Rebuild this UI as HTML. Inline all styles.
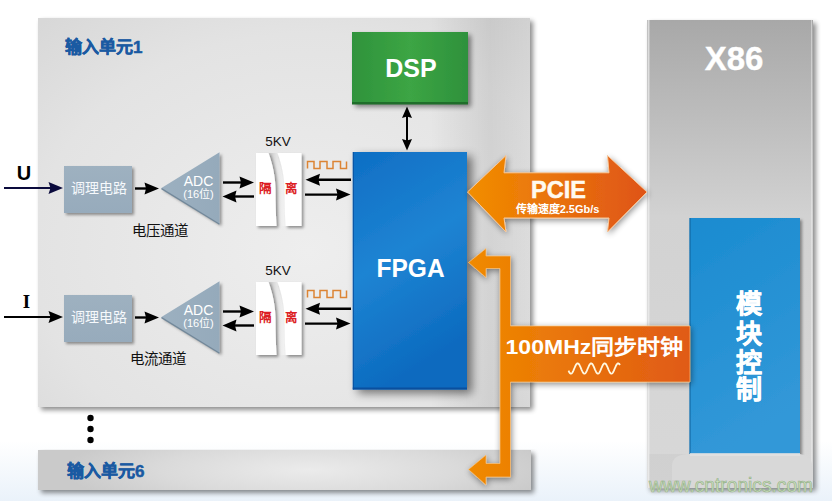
<!DOCTYPE html>
<html lang="zh-CN">
<head>
<meta charset="utf-8">
<style>
html,body{margin:0;padding:0;width:832px;height:501px;overflow:hidden;background:#fff;}
body{font-family:"Liberation Sans",sans-serif;}
svg{position:absolute;left:0;top:0;}
text{font-family:"Liberation Sans",sans-serif;}
</style>
</head>
<body>
<svg width="832" height="501" viewBox="0 0 832 501">
<defs>
  <linearGradient id="bg" x1="0" y1="0" x2="0" y2="1">
    <stop offset="0" stop-color="#ffffff"/>
    <stop offset="0.88" stop-color="#ffffff"/>
    <stop offset="1" stop-color="#eaf2fa"/>
  </linearGradient>
  <radialGradient id="p1" cx="0.55" cy="0.6" r="0.8" gradientUnits="objectBoundingBox">
    <stop offset="0" stop-color="#eeeeee"/>
    <stop offset="0.7" stop-color="#e3e3e3"/>
    <stop offset="1" stop-color="#d8d8d8"/>
  </radialGradient>
  <radialGradient id="p6" cx="0.55" cy="0.5" r="0.5" gradientUnits="objectBoundingBox" gradientTransform="translate(0.55,0.5) scale(1,2.2) translate(-0.55,-0.5)">
    <stop offset="0" stop-color="#ebebeb"/>
    <stop offset="0.6" stop-color="#dadada"/>
    <stop offset="1" stop-color="#cacaca"/>
  </radialGradient>
  <linearGradient id="x86" x1="0" y1="0" x2="0" y2="1">
    <stop offset="0" stop-color="#a8a8a8"/>
    <stop offset="0.42" stop-color="#d2d2d2"/>
    <stop offset="1" stop-color="#d8d8d8"/>
  </linearGradient>
  <linearGradient id="dsp" x1="0" y1="0" x2="1" y2="0">
    <stop offset="0" stop-color="#2f933c"/>
    <stop offset="0.5" stop-color="#3ca544"/>
    <stop offset="1" stop-color="#2e913c"/>
  </linearGradient>
  <linearGradient id="fpga" x1="0" y1="0" x2="0.3" y2="1">
    <stop offset="0" stop-color="#0e6ec4"/>
    <stop offset="0.5" stop-color="#1e84d3"/>
    <stop offset="1" stop-color="#0c6abf"/>
  </linearGradient>
  <linearGradient id="mk" x1="0" y1="0" x2="0.3" y2="1">
    <stop offset="0" stop-color="#1a8bd0"/>
    <stop offset="1" stop-color="#3298d8"/>
  </linearGradient>
  <linearGradient id="org" x1="0" y1="0" x2="1" y2="0">
    <stop offset="0" stop-color="#f28e00"/>
    <stop offset="1" stop-color="#df5418"/>
  </linearGradient>
  <linearGradient id="org2" x1="0" y1="0" x2="1" y2="0">
    <stop offset="0" stop-color="#f08a00"/>
    <stop offset="1" stop-color="#e05a16"/>
  </linearGradient>
  <linearGradient id="box" x1="0" y1="0" x2="0" y2="1">
    <stop offset="0" stop-color="#9eb1c0"/>
    <stop offset="1" stop-color="#97abbc"/>
  </linearGradient>
  <linearGradient id="tri" x1="0" y1="0" x2="1" y2="0">
    <stop offset="0" stop-color="#9cb0c0"/>
    <stop offset="1" stop-color="#95aabb"/>
  </linearGradient>
  <linearGradient id="band" x1="0" y1="0" x2="1" y2="0">
    <stop offset="0" stop-color="#c4c4c4"/>
    <stop offset="0.5" stop-color="#e6e6e6"/>
    <stop offset="1" stop-color="#f4f4f4"/>
  </linearGradient>
  <filter id="sh" x="-10%" y="-10%" width="130%" height="130%">
    <feGaussianBlur in="SourceAlpha" stdDeviation="2.5"/>
    <feOffset dx="3" dy="3" result="b"/>
    <feComponentTransfer><feFuncA type="linear" slope="0.45"/></feComponentTransfer>
    <feMerge><feMergeNode/><feMergeNode in="SourceGraphic"/></feMerge>
  </filter>
  <linearGradient id="p1r" x1="0" y1="0" x2="1" y2="0">
    <stop offset="0" stop-color="#000" stop-opacity="0"/>
    <stop offset="0.6" stop-color="#000" stop-opacity="0.085"/>
    <stop offset="1" stop-color="#000" stop-opacity="0.04"/>
  </linearGradient>
  <filter id="shF" x="-30%" y="-10%" width="160%" height="130%">
    <feGaussianBlur in="SourceAlpha" stdDeviation="5"/>
    <feOffset dx="5" dy="4" result="b"/>
    <feComponentTransfer><feFuncA type="linear" slope="0.5"/></feComponentTransfer>
    <feMerge><feMergeNode/><feMergeNode in="SourceGraphic"/></feMerge>
  </filter>
  <filter id="shO" x="-20%" y="-20%" width="150%" height="150%">
    <feGaussianBlur in="SourceAlpha" stdDeviation="3"/>
    <feOffset dx="1" dy="2" result="b"/>
    <feComponentTransfer><feFuncA type="linear" slope="0.45"/></feComponentTransfer>
    <feMerge><feMergeNode/><feMergeNode in="SourceGraphic"/></feMerge>
  </filter>
  <filter id="sh2" x="-20%" y="-20%" width="150%" height="150%">
    <feGaussianBlur in="SourceAlpha" stdDeviation="1.5"/>
    <feOffset dx="2" dy="2" result="b"/>
    <feComponentTransfer><feFuncA type="linear" slope="0.4"/></feComponentTransfer>
    <feMerge><feMergeNode/><feMergeNode in="SourceGraphic"/></feMerge>
  </filter>
</defs>

<rect x="0" y="0" width="832" height="501" fill="url(#bg)"/>

<!-- panels -->
<rect x="38" y="18" width="492" height="389" fill="url(#p1)" filter="url(#sh)"/>
<rect x="38" y="450" width="493" height="40" fill="url(#p6)" filter="url(#sh)"/>
<rect x="647" y="20" width="166" height="468" fill="url(#x86)" filter="url(#sh)"/>
<rect x="647.5" y="20" width="2" height="468" fill="#f0f0f0" opacity="0.7"/>
<rect x="811" y="20" width="1" height="468" fill="#eeeeee" opacity="0.5"/>

<rect x="430" y="18" width="100" height="389" fill="url(#p1r)"/>
<text x="65" y="53" font-size="17" font-weight="bold" fill="#1a5aa2" stroke="#1a5aa2" stroke-width="0.5">输入单元1</text>
<text x="67" y="477" font-size="17" font-weight="bold" fill="#1a5aa2" stroke="#1a5aa2" stroke-width="0.5">输入单元6</text>

<circle cx="90.5" cy="418" r="3.2" fill="#000"/>
<circle cx="90.5" cy="429" r="3.2" fill="#000"/>
<circle cx="90.5" cy="440" r="3.2" fill="#000"/>

<!-- DSP -->
<rect x="352" y="32" width="116" height="72" fill="url(#dsp)" filter="url(#sh)"/>
<rect x="352" y="102" width="116" height="2.5" fill="#1f6e2a"/>
<text x="411" y="77" font-size="25" font-weight="bold" fill="#fff" text-anchor="middle">DSP</text>

<!-- FPGA -->
<rect x="352.8" y="152" width="114.2" height="237.5" fill="url(#fpga)" filter="url(#shF)"/>
<rect x="352.8" y="387.5" width="114.2" height="2" fill="#0a4f9e"/>
<rect x="352.8" y="152" width="1.2" height="237.5" fill="#0a4f9e" opacity="0.8"/>
<text x="376.6" y="277" font-size="25" font-weight="bold" fill="#fff" textLength="68" lengthAdjust="spacingAndGlyphs">FPGA</text>

<!-- DSP-FPGA -->
<line x1="407" y1="114" x2="407" y2="143" stroke="#000" stroke-width="2"/>
<path d="M407.0,106.5 L412.0,118.0 L407.0,116.5 L402.0,118.0 z" fill="#000"/>
<path d="M407.0,150.5 L402.0,139.0 L407.0,140.5 L412.0,139.0 z" fill="#000"/>

<g transform="translate(0,0)">
<line x1="4.0" y1="188.0" x2="51.0" y2="188.0" stroke="#0a0a3c" stroke-width="2.2"/><path d="M63.0,188.0 L48.5,194.0 L50.5,188.0 L48.5,182.0 z" fill="#0a0a3c"/>
<rect x="64" y="166" width="68" height="47" fill="url(#box)" filter="url(#sh2)"/>
<text x="98.5" y="193.3" font-size="14" fill="#f6f9fc" text-anchor="middle">调理电路</text>
<line x1="135.0" y1="188.5" x2="146.5" y2="188.5" stroke="#000" stroke-width="2.4"/><path d="M159.0,188.5 L144.5,194.5 L146.0,188.5 L144.5,182.5 z" fill="#000"/>
<path d="M161,188.3 L219.5,152.3 L219.5,224.3 z" fill="url(#tri)" filter="url(#sh2)"/>
<path d="M161.5,188.6 L219.5,224.3" stroke="#72889a" stroke-width="1.3"/>
<text x="198.5" y="186" font-size="14" fill="#fff" text-anchor="middle">ADC</text>
<text x="198.5" y="198" font-size="11" fill="#fff" text-anchor="middle">(16位)</text>
<text x="132" y="236.2" font-size="14.5" fill="#111">电压通道</text>
<line x1="223.0" y1="182.5" x2="241.5" y2="182.5" stroke="#000" stroke-width="2.4"/><path d="M254.0,182.5 L239.5,188.5 L241.0,182.5 L239.5,176.5 z" fill="#000"/>
<line x1="254.0" y1="196.5" x2="234.5" y2="196.5" stroke="#000" stroke-width="2.4"/><path d="M222.5,196.5 L236.5,190.5 L235.0,196.5 L236.5,202.5 z" fill="#000"/>
<text x="278" y="146" font-size="13.5" fill="#111" text-anchor="middle">5KV</text>
<path d="M268.5,153 C273,165 275.5,178 275.5,190 C275.5,204 276,216 276.5,226 L285.5,226 C285,216 284.5,204 284.5,190 C284.5,178 282,165 277.5,153 z" fill="url(#band)"/>
<path d="M256,153 L268.5,153 C273,165 275.5,178 275.5,190 C275.5,204 276,216 276.5,226 L256,226 z" fill="#fff" filter="url(#sh2)"/>
<path d="M277.5,153 L301.5,153 L301.5,226 L285.5,226 C285,216 284.5,204 284.5,190 C284.5,178 282,165 277.5,153 z" fill="#fff" filter="url(#sh2)"/>
<text x="265" y="193" font-size="12.5" font-weight="bold" fill="#dc1f26" text-anchor="middle">隔</text>
<text x="291.5" y="193" font-size="12.5" font-weight="bold" fill="#dc1f26" text-anchor="middle">离</text>
<path d="M307.5,168.5 L307.5,161.5 L314,161.5 L314,168.5 L320,168.5 L320,161.5 L327,161.5 L327,168.5 L333,168.5 L333,161.5 L340.5,161.5 L340.5,168.5 L346.5,168.5 L346.5,161.5" fill="none" stroke="#dc8434" stroke-width="1.5"/>
<line x1="351.0" y1="179.8" x2="318.0" y2="179.8" stroke="#000" stroke-width="2.4"/><path d="M305.5,179.8 L320.0,173.8 L318.5,179.8 L320.0,185.8 z" fill="#000"/>
<line x1="305.0" y1="194.6" x2="338.0" y2="194.6" stroke="#000" stroke-width="2.4"/><path d="M350.5,194.6 L336.0,200.6 L337.5,194.6 L336.0,188.6 z" fill="#000"/>
</g>
<g transform="translate(0,129)">
<line x1="4.0" y1="188.0" x2="51.0" y2="188.0" stroke="#000" stroke-width="2.2"/><path d="M63.0,188.0 L48.5,194.0 L50.5,188.0 L48.5,182.0 z" fill="#000"/>
<rect x="64" y="166" width="68" height="47" fill="url(#box)" filter="url(#sh2)"/>
<text x="98.5" y="193.3" font-size="14" fill="#f6f9fc" text-anchor="middle">调理电路</text>
<line x1="135.0" y1="188.5" x2="146.5" y2="188.5" stroke="#000" stroke-width="2.4"/><path d="M159.0,188.5 L144.5,194.5 L146.0,188.5 L144.5,182.5 z" fill="#000"/>
<path d="M161,188.3 L219.5,152.3 L219.5,224.3 z" fill="url(#tri)" filter="url(#sh2)"/>
<path d="M161.5,188.6 L219.5,224.3" stroke="#72889a" stroke-width="1.3"/>
<text x="198.5" y="186" font-size="14" fill="#fff" text-anchor="middle">ADC</text>
<text x="198.5" y="198" font-size="11" fill="#fff" text-anchor="middle">(16位)</text>
<text x="130" y="235" font-size="14.5" fill="#111">电流通道</text>
<line x1="223.0" y1="182.5" x2="241.5" y2="182.5" stroke="#000" stroke-width="2.4"/><path d="M254.0,182.5 L239.5,188.5 L241.0,182.5 L239.5,176.5 z" fill="#000"/>
<line x1="254.0" y1="196.5" x2="234.5" y2="196.5" stroke="#000" stroke-width="2.4"/><path d="M222.5,196.5 L236.5,190.5 L235.0,196.5 L236.5,202.5 z" fill="#000"/>
<text x="278" y="146" font-size="13.5" fill="#111" text-anchor="middle">5KV</text>
<path d="M268.5,153 C273,165 275.5,178 275.5,190 C275.5,204 276,216 276.5,226 L285.5,226 C285,216 284.5,204 284.5,190 C284.5,178 282,165 277.5,153 z" fill="url(#band)"/>
<path d="M256,153 L268.5,153 C273,165 275.5,178 275.5,190 C275.5,204 276,216 276.5,226 L256,226 z" fill="#fff" filter="url(#sh2)"/>
<path d="M277.5,153 L301.5,153 L301.5,226 L285.5,226 C285,216 284.5,204 284.5,190 C284.5,178 282,165 277.5,153 z" fill="#fff" filter="url(#sh2)"/>
<text x="265" y="193" font-size="12.5" font-weight="bold" fill="#dc1f26" text-anchor="middle">隔</text>
<text x="291.5" y="193" font-size="12.5" font-weight="bold" fill="#dc1f26" text-anchor="middle">离</text>
<path d="M307.5,168.5 L307.5,161.5 L314,161.5 L314,168.5 L320,168.5 L320,161.5 L327,161.5 L327,168.5 L333,168.5 L333,161.5 L340.5,161.5 L340.5,168.5 L346.5,168.5 L346.5,161.5" fill="none" stroke="#dc8434" stroke-width="1.5"/>
<line x1="351.0" y1="179.8" x2="318.0" y2="179.8" stroke="#000" stroke-width="2.4"/><path d="M305.5,179.8 L320.0,173.8 L318.5,179.8 L320.0,185.8 z" fill="#000"/>
<line x1="305.0" y1="194.6" x2="338.0" y2="194.6" stroke="#000" stroke-width="2.4"/><path d="M350.5,194.6 L336.0,200.6 L337.5,194.6 L336.0,188.6 z" fill="#000"/>
</g>

<text x="24" y="180" font-size="20" font-weight="bold" fill="#000" text-anchor="middle">U</text>
<text x="26.5" y="308" font-size="19" font-weight="bold" fill="#000" text-anchor="middle" style="font-family:'Liberation Serif',serif">I</text>

<!-- 模块控制 -->
<rect x="689.5" y="218" width="110.5" height="236" fill="url(#mk)" filter="url(#sh2)"/>
<rect x="689.5" y="218" width="1.2" height="236" fill="#0e5f9a" opacity="0.7"/>
<g font-size="26" font-weight="bold" fill="#fff" stroke="#fff" stroke-width="0.6" text-anchor="middle">
  <text x="749" y="313">模</text>
  <text x="749" y="342.5">块</text>
  <text x="749" y="371.5">控</text>
  <text x="749" y="399">制</text>
</g>

<text x="734" y="69.5" font-size="33" font-weight="bold" fill="#fff" stroke="#fff" stroke-width="0.4" text-anchor="middle">X86</text>

<!-- PCIE -->
<path d="M467.5,192 L506,155.5 L504,172.8 L609,172.8 L607.5,155.5 L647,192 L607.5,232 L609,218 L504,218 L506,232 z" fill="url(#org)" stroke="#f6c79a" stroke-width="1" filter="url(#shO)"/>
<text x="558.5" y="197.5" font-size="23.5" font-weight="bold" fill="#fffaf0" stroke="#fffaf0" stroke-width="0.5" text-anchor="middle">PCIE</text>
<text x="557.5" y="213" font-size="11" font-weight="bold" fill="#fff" text-anchor="middle">传输速度2.5Gb/s</text>

<!-- clock -->
<path d="M468.5,262.5 L486,248.5 L486,256 L510.5,256 L510.5,326 L690,326 L690,382 L510.5,382 L510.5,477 L486,477 L486,485 L468.5,469.5 L486,455 L486,463.5 L500,463.5 L500,268.5 L486,268.5 L486,277.5 z" fill="url(#org2)" stroke="#f7c27e" stroke-width="0.7" filter="url(#shO)"/>
<text x="505.5" y="353.5" font-size="21" font-weight="bold" fill="#fff" textLength="178" lengthAdjust="spacingAndGlyphs">100MHz同步时钟</text>
<path d="M568.5,370.7 L569.0,371.7 L569.5,372.6 L570.0,373.2 L570.5,373.6 L571.0,373.7 L571.5,373.5 L572.0,373.1 L572.5,372.4 L573.0,371.5 L573.5,370.4 L574.0,369.2 L574.5,368.0 L575.0,366.8 L575.5,365.7 L576.0,364.8 L576.5,364.1 L577.0,363.6 L577.5,363.3 L578.0,363.4 L578.5,363.7 L579.0,364.3 L579.5,365.1 L580.0,366.1 L580.5,367.2 L581.0,368.4 L581.5,369.6 L582.0,370.7 L582.5,371.7 L583.0,372.6 L583.5,373.2 L584.0,373.6 L584.5,373.7 L585.0,373.5 L585.5,373.1 L586.0,372.4 L586.5,371.5 L587.0,370.4 L587.5,369.2 L588.0,368.0 L588.5,366.8 L589.0,365.7 L589.5,364.8 L590.0,364.1 L590.5,363.6 L591.0,363.3 L591.5,363.4 L592.0,363.7 L592.5,364.3 L593.0,365.1 L593.5,366.1 L594.0,367.2 L594.5,368.4 L595.0,369.6 L595.5,370.7 L596.0,371.7 L596.5,372.6 L597.0,373.2 L597.5,373.6 L598.0,373.7 L598.5,373.5 L599.0,373.1 L599.5,372.4 L600.0,371.5 L600.5,370.4 L601.0,369.2 L601.5,368.0 L602.0,366.8 L602.5,365.7 L603.0,364.8 L603.5,364.1 L604.0,363.6 L604.5,363.3 L605.0,363.4 L605.5,363.7 L606.0,364.3 L606.5,365.1 L607.0,366.1 L607.5,367.2 L608.0,368.4 L608.5,369.6 L609.0,370.7 L609.5,371.7 L610.0,372.6 L610.5,373.2 L611.0,373.6 L611.5,373.7 L612.0,373.5 L612.5,373.1 L613.0,372.4 L613.5,371.5 L614.0,370.4 L614.5,369.2 L615.0,368.0 L615.5,366.8 L616.0,365.7 L616.5,364.8 L617.0,364.1 L617.5,363.6 L618.0,363.3 L618.5,363.4 L619.0,363.7 L619.5,364.3 L620.0,365.1" fill="none" stroke="#fff8e0" stroke-width="1.8" stroke-linejoin="round"/>


<rect x="649.5" y="454" width="40" height="35" fill="#c9c9c9" opacity="0.5"/>
<path d="M672,466 Q672,454 690,454 L800,454 Q812,456 812,466 L812,480 L672,480 z" fill="#d8d8d8"/>
<rect x="690" y="453" width="110" height="3" fill="#e2e2e2" opacity="0.8"/>
<text x="649" y="491.5" font-size="19.5" fill="#cfe2c2" stroke="#98b38c" stroke-width="0.7" textLength="164" lengthAdjust="spacingAndGlyphs">www.cntronics.com</text>
</svg>
</body>
</html>
